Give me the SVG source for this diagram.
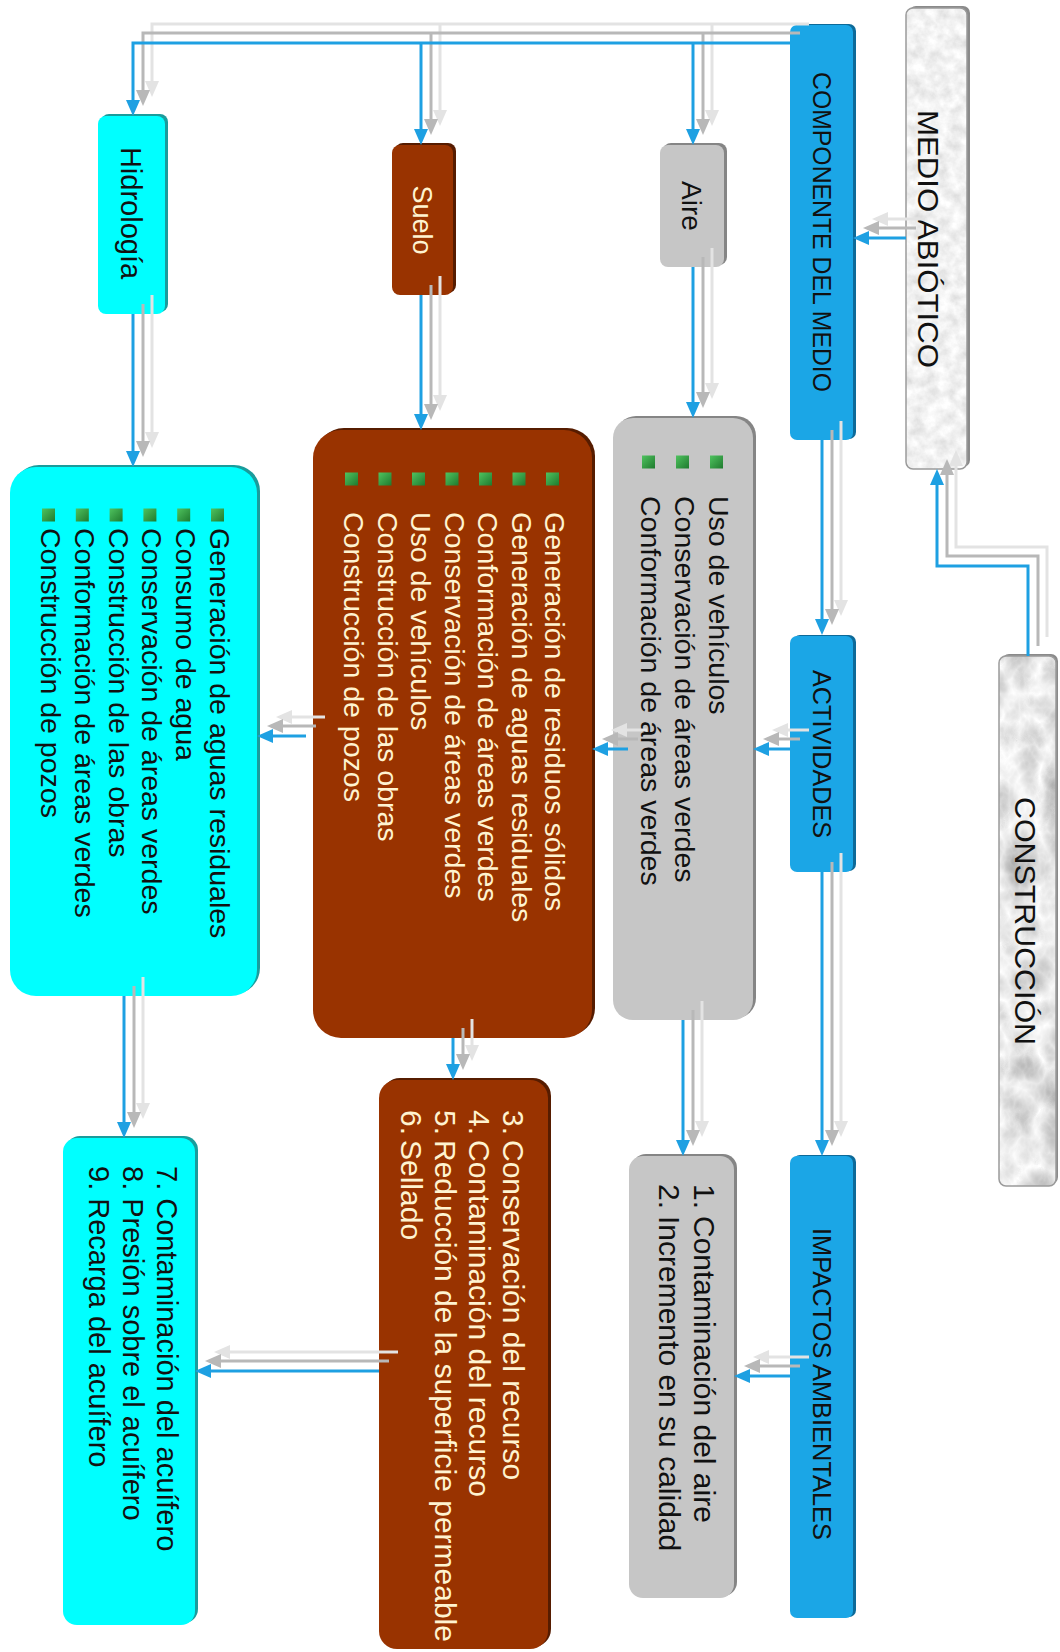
<svg xmlns="http://www.w3.org/2000/svg" width="1060" height="1652" viewBox="0 0 1060 1652">
<defs>
<style>
text{font-family:"Liberation Sans",Arial,sans-serif;}
.hd{font-size:26px;fill:#111;}
.big{font-size:30px;fill:#111;}
.lst{font-size:28.5px;}
.imp{font-size:30px;}
.imp2{font-size:29px;}
.dk{fill:#111;}
.cr{fill:#fff3d0;}
.blue{fill:#1ba6e6;} .blue-s{fill:#0d6a99;}
.gray{fill:#c6c6c6;} .gray-s{fill:#858585;}
.brown{fill:#993300;} .brown-s{fill:#561c00;}
.cyan{fill:#00ffff;} .cyan-s{fill:#1a9c9c;}
.mrb-s{fill:#8a8a8a;}
.mrb-b{fill:none;stroke:#9a9a9a;stroke-width:1.5;}
.bul{fill:url(#gBul);}
.sh2 path{fill:none;stroke:#e3e3e3;stroke-width:3;marker-end:url(#aL);}
.sh1 path{fill:none;stroke:#b8b8b8;stroke-width:3;marker-end:url(#aG);}
.main path{fill:none;stroke:#1ea0e2;stroke-width:3;marker-end:url(#aB);}
</style>
<marker id="aB" viewBox="0 0 16 14" refX="8" refY="7" markerWidth="16" markerHeight="14" markerUnits="userSpaceOnUse" orient="auto"><path d="M0,0 L16,7 L0,14 z" fill="#1ea0e2"/></marker>
<marker id="aG" viewBox="0 0 16 14" refX="8" refY="7" markerWidth="16" markerHeight="14" markerUnits="userSpaceOnUse" orient="auto"><path d="M0,0 L16,7 L0,14 z" fill="#b8b8b8"/></marker>
<marker id="aL" viewBox="0 0 16 14" refX="8" refY="7" markerWidth="16" markerHeight="14" markerUnits="userSpaceOnUse" orient="auto"><path d="M0,0 L16,7 L0,14 z" fill="#e3e3e3"/></marker>
<linearGradient id="gBul" x1="0" y1="0" x2="1" y2="1"><stop offset="0" stop-color="#4fc35f"/><stop offset="1" stop-color="#1f7a2e"/></linearGradient>
<filter id="mLight" x="0" y="0" width="1" height="1">
<feTurbulence type="fractalNoise" baseFrequency="0.08" numOctaves="4" seed="7" result="t"/>
<feColorMatrix in="t" type="matrix" values="0.45 0 0 0 0.66  0.45 0 0 0 0.66  0.45 0 0 0 0.66  0 0 0 0 1" result="g"/>
<feComposite in="g" in2="SourceGraphic" operator="in"/>
</filter>
<filter id="mDark" x="0" y="0" width="1" height="1">
<feTurbulence type="turbulence" baseFrequency="0.025 0.018" numOctaves="4" seed="11" result="t"/>
<feColorMatrix in="t" type="matrix" values="-0.75 0 0 0 1.02  -0.75 0 0 0 1.02  -0.75 0 0 0 1.02  0 0 0 0 1" result="g"/>
<feComposite in="g" in2="SourceGraphic" operator="in"/>
</filter>
</defs>
<rect width="1060" height="1652" fill="#ffffff"/>

<g id="medio-abiotico">
<rect class="mrb-s" x="909" y="6" width="61" height="461" rx="7"/>
<rect x="906" y="8" width="61" height="461" rx="7" fill="#e8e8e8" filter="url(#mLight)"/>
<rect class="mrb-b" x="906" y="8" width="61" height="461" rx="7"/>
<text class="big" text-anchor="middle" textLength="258" lengthAdjust="spacingAndGlyphs" transform="translate(918,239) rotate(90)">MEDIO ABIÓTICO</text>
</g>

<g id="construccion">
<rect class="mrb-s" x="1002" y="654" width="56" height="530" rx="7"/>
<rect x="999" y="656" width="57" height="530" rx="7" fill="#d0d0d0" filter="url(#mDark)"/>
<rect class="mrb-b" x="999" y="656" width="57" height="530" rx="7"/>
<text class="big" text-anchor="middle" textLength="248" lengthAdjust="spacingAndGlyphs" transform="translate(1015,921) rotate(90)">CONSTRUCCIÓN</text>
</g>

<g id="componente">
<rect class="blue-s" x="793" y="24" width="63" height="415" rx="7"/>
<rect class="blue" x="790" y="25" width="63" height="415" rx="7"/>
<text class="hd" text-anchor="middle" textLength="320" lengthAdjust="spacingAndGlyphs" transform="translate(813,232) rotate(90)">COMPONENTE DEL MEDIO</text>
</g>

<g id="actividades">
<rect class="blue-s" x="793" y="635" width="63" height="236" rx="7"/>
<rect class="blue" x="790" y="636" width="63" height="236" rx="7"/>
<text class="hd" text-anchor="middle" textLength="168" lengthAdjust="spacingAndGlyphs" transform="translate(813,754) rotate(90)">ACTIVIDADES</text>
</g>

<g id="impactos">
<rect class="blue-s" x="793" y="1155" width="63" height="462" rx="7"/>
<rect class="blue" x="790" y="1156" width="63" height="462" rx="7"/>
<text class="hd" text-anchor="middle" textLength="312" lengthAdjust="spacingAndGlyphs" transform="translate(813,1384) rotate(90)">IMPACTOS AMBIENTALES</text>
</g>

<g id="aire">
<rect class="gray-s" x="663" y="143" width="64" height="122" rx="8"/>
<rect class="gray" x="660" y="145" width="64" height="122" rx="8"/>
<text class="dk" font-size="28" text-anchor="middle" transform="translate(682,206) rotate(90)">Aire</text>
</g>

<g id="suelo">
<rect class="brown-s" x="395" y="143" width="61" height="150" rx="8"/>
<rect class="brown" x="392" y="145" width="61" height="150" rx="8"/>
<text class="cr" font-size="27" text-anchor="middle" transform="translate(412.5,220) rotate(90)">Suelo</text>
</g>

<g id="hidrologia">
<rect class="cyan-s" x="101" y="114" width="67" height="198" rx="8"/>
<rect class="cyan" x="98" y="116" width="67" height="198" rx="8"/>
<text class="dk" font-size="29" text-anchor="middle" transform="translate(121,213) rotate(90)">Hidrología</text>
</g>

<g id="aire-actividades">
<rect class="gray-s" x="616" y="416" width="140" height="602" rx="20"/>
<rect class="gray" x="613" y="418" width="140" height="602" rx="20"/>
<rect class="bul" x="710" y="455.5" width="13" height="13"/>
<rect class="bul" x="676" y="455.5" width="13" height="13"/>
<rect class="bul" x="642" y="455.5" width="13" height="13"/>
<text class="lst dk" transform="translate(709,496) rotate(90)"><tspan x="0" y="0">Uso de vehículos</tspan><tspan x="0" y="34">Conservación de áreas verdes</tspan><tspan x="0" y="68">Conformación de áreas verdes</tspan></text>
</g>

<g id="suelo-actividades">
<rect class="brown-s" x="316" y="428" width="279" height="608" rx="28"/>
<rect class="brown" x="313" y="430" width="279" height="608" rx="28"/>
<rect class="bul" x="546" y="472.5" width="13" height="13"/>
<rect class="bul" x="512.5" y="472.5" width="13" height="13"/>
<rect class="bul" x="479" y="472.5" width="13" height="13"/>
<rect class="bul" x="445.5" y="472.5" width="13" height="13"/>
<rect class="bul" x="412" y="472.5" width="13" height="13"/>
<rect class="bul" x="378.5" y="472.5" width="13" height="13"/>
<rect class="bul" x="345" y="472.5" width="13" height="13"/>
<text class="lst cr" transform="translate(545,512) rotate(90)"><tspan x="0" y="0">Generación de residuos sólidos</tspan><tspan x="0" y="33.5">Generación de aguas residuales</tspan><tspan x="0" y="67">Conformación de áreas verdes</tspan><tspan x="0" y="100.5">Conservación de áreas verdes</tspan><tspan x="0" y="134">Uso de vehículos</tspan><tspan x="0" y="167.5">Construcción de las obras</tspan><tspan x="0" y="201">Construcción de pozos</tspan></text>
</g>

<g id="hidrologia-actividades">
<rect class="cyan-s" x="13" y="465" width="247" height="529" rx="26"/>
<rect class="cyan" x="10" y="467" width="247" height="529" rx="26"/>
<rect class="bul" x="211" y="508.5" width="13" height="13"/>
<rect class="bul" x="177.2" y="508.5" width="13" height="13"/>
<rect class="bul" x="143.4" y="508.5" width="13" height="13"/>
<rect class="bul" x="109.6" y="508.5" width="13" height="13"/>
<rect class="bul" x="75.8" y="508.5" width="13" height="13"/>
<rect class="bul" x="42" y="508.5" width="13" height="13"/>
<text class="lst dk" transform="translate(210,528) rotate(90)"><tspan x="0" y="0">Generación de aguas residuales</tspan><tspan x="0" y="33.8">Consumo de agua</tspan><tspan x="0" y="67.6">Conservación de áreas verdes</tspan><tspan x="0" y="101.4">Construcción de las obras</tspan><tspan x="0" y="135.2">Conformación de áreas verdes</tspan><tspan x="0" y="169">Construcción de pozos</tspan></text>
</g>

<g id="aire-impactos">
<rect class="gray-s" x="632" y="1154" width="105" height="442" rx="14"/>
<rect class="gray" x="629" y="1156" width="105" height="442" rx="14"/>
<g class="imp dk" transform="translate(694,1184) rotate(90)">
<text x="0" y="0">1.</text><text x="32" y="0">Contaminación del aire</text>
<text x="0" y="35">2.</text><text x="32" y="35">Incremento en su calidad</text>
</g>
</g>

<g id="suelo-impactos">
<rect class="brown-s" x="382" y="1078" width="169" height="569" rx="18"/>
<rect class="brown" x="379" y="1080" width="169" height="569" rx="18"/>
<g class="imp cr" transform="translate(503,1110) rotate(90)">
<text x="0" y="0">3.</text><text x="30" y="0">Conservación del recurso</text>
<text x="0" y="34">4.</text><text x="30" y="34">Contaminación del recurso</text>
<text x="0" y="68">5.</text><text x="30" y="68">Reducción de la superficie permeable</text>
<text x="0" y="102">6.</text><text x="30" y="102">Sellado</text>
</g>
</g>

<g id="hidrologia-impactos">
<rect class="cyan-s" x="66" y="1136" width="132" height="487" rx="14"/>
<rect class="cyan" x="63" y="1138" width="132" height="487" rx="14"/>
<text class="imp2 dk" transform="translate(157,1166) rotate(90)"><tspan x="0" y="0">7. Contaminación del acuífero</tspan><tspan x="0" y="34">8. Presión sobre el acuífero</tspan><tspan x="0" y="68">9. Recarga del acuífero</tspan></text>
</g>

<g id="connectors">
<g class="sh2" transform="translate(19,-19)">
<path d="M906,238H861"/><path d="M1028,656V566H937V477"/><path d="M822,440V627"/><path d="M822,872V1148"/>
<path d="M790,749H761"/><path d="M628,749H600"/><path d="M306,736H265"/><path d="M790,43H133V108"/>
<path d="M693,43V137"/><path d="M421,43V137"/><path d="M693,267V410"/><path d="M421,295V422"/>
<path d="M133,314V459"/><path d="M683,1020V1148"/><path d="M453,1038V1072"/><path d="M124,996V1130"/>
<path d="M790,1376H742"/><path d="M379,1371H203"/>
</g>
<g class="sh1" transform="translate(10,-10)">
<path d="M906,238H861"/><path d="M1028,656V566H937V477"/><path d="M822,440V627"/><path d="M822,872V1148"/>
<path d="M790,749H761"/><path d="M628,749H600"/><path d="M306,736H265"/><path d="M790,43H133V108"/>
<path d="M693,43V137"/><path d="M421,43V137"/><path d="M693,267V410"/><path d="M421,295V422"/>
<path d="M133,314V459"/><path d="M683,1020V1148"/><path d="M453,1038V1072"/><path d="M124,996V1130"/>
<path d="M790,1376H742"/><path d="M379,1371H203"/>
</g>
<g class="main">
<path d="M906,238H861"/><path d="M1028,656V566H937V477"/><path d="M822,440V627"/><path d="M822,872V1148"/>
<path d="M790,749H761"/><path d="M628,749H600"/><path d="M306,736H265"/><path d="M790,43H133V108"/>
<path d="M693,43V137"/><path d="M421,43V137"/><path d="M693,267V410"/><path d="M421,295V422"/>
<path d="M133,314V459"/><path d="M683,1020V1148"/><path d="M453,1038V1072"/><path d="M124,996V1130"/>
<path d="M790,1376H742"/><path d="M379,1371H203"/>
</g>
</g>
</svg>
